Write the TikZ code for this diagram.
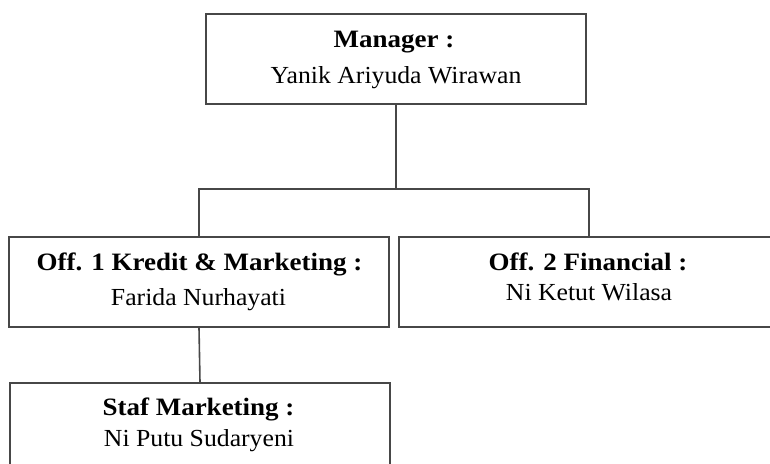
\documentclass[tikz,border=0pt]{standalone}
\usepackage{fontspec}
\setmainfont{Liberation Serif}
\begin{document}
\begin{tikzpicture}[x=1pt,y=-1pt,
  box/.style={draw=black!72, line width=1.6pt, rectangle, inner sep=0pt,
              minimum width=380pt, minimum height=90pt},
  conn/.style={draw=black!72, line width=1.6pt},
  ttl/.style={anchor=base, inner sep=0pt, xscale=1.08, transform shape,
              font=\bfseries\fontsize{25}{28}\selectfont},
  nm/.style={anchor=base, inner sep=0pt, xscale=1.05, transform shape,
             font=\fontsize{24.5}{28}\selectfont}]
\useasboundingbox (0,0) rectangle (770,463);
\fill[white] (0,0) rectangle (770,463);
% boxes
\node[box] (mgr) at (396,59) {};
\node[box] (off1) at (199,282) {};
\node[box] (off2) at (589,282) {};
\node[box] (staf) at (200,428) {};
% texts
\node[ttl] (t1) at (394,47) {Manager :};
\node[nm]  (n1) at (396,83) {Yanik Ariyuda Wirawan};
\node[ttl] (t2) at (199.5,270) {Off. 1 Kredit \& Marketing :};
\node[nm]  (n2) at (198.5,305) {Farida Nurhayati};
\node[ttl] (t3) at (588,270) {Off. 2 Financial :};
\node[nm]  (n3) at (589,300) {Ni Ketut Wilasa};
\node[ttl] (t4) at (198.5,415) {Staf Marketing :};
\node[nm]  (n4) at (199,446) {Ni Putu Sudaryeni};
% connectors
\coordinate (hub) at (396,189);
\draw[conn] (mgr.south) -- (hub);
\draw[conn] (off1.north) |- (hub) -| (off2.north);
\draw[conn] (off1.south) -- (staf.north);
\end{tikzpicture}
\end{document}
